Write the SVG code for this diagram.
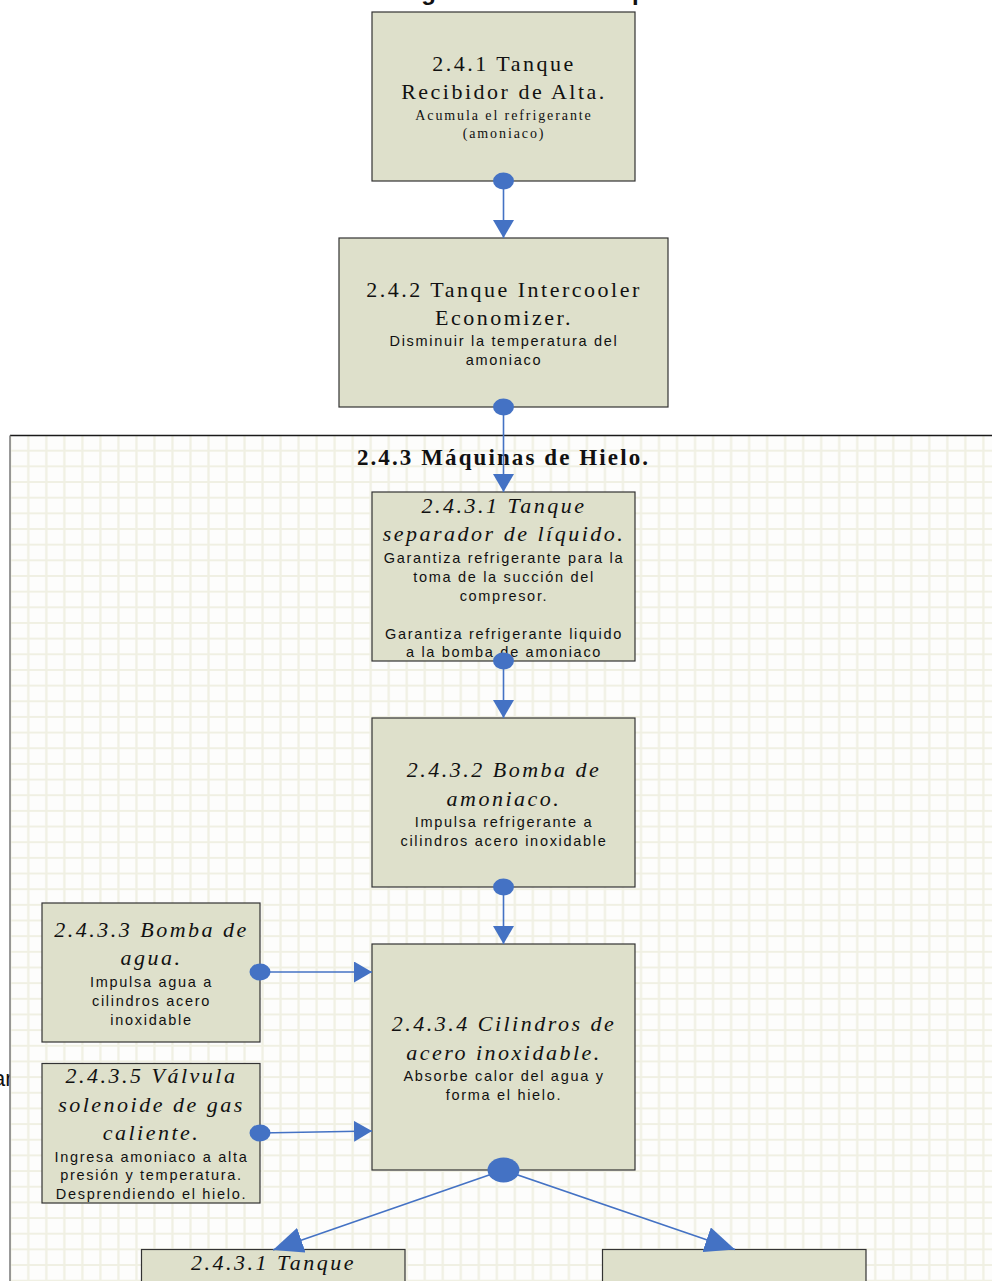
<svg xmlns="http://www.w3.org/2000/svg" width="992" height="1281" viewBox="0 0 992 1281">
<defs>
<style>
.box{fill:#dee0cb;stroke:#333;stroke-width:1.2}
.h{font-family:"Liberation Serif",serif;font-size:22px;letter-spacing:2.5px;text-anchor:middle;fill:#111}
.i{font-style:italic}
.ss{font-family:"Liberation Serif",serif;font-size:14px;letter-spacing:1.9px;text-anchor:middle;fill:#111}
.s{font-family:"Liberation Sans",sans-serif;font-size:14.5px;letter-spacing:1.7px;text-anchor:middle;fill:#111}
.ln{stroke:#4472c4;stroke-width:1.6;fill:none}
.dot{fill:#4472c4}
</style>
<pattern id="grid" patternUnits="userSpaceOnUse" x="19.29" y="442.87" width="18.02" height="15.66">
<rect width="18.02" height="15.66" fill="#fdfdfc"/>
<path d="M9.01 0V15.66M0 7.83H18.02" stroke="#f0f0e3" stroke-width="2.2"/>
</pattern>
<marker id="ah" markerUnits="userSpaceOnUse" viewBox="0 0 18 21" refX="18" refY="10.5" markerWidth="18" markerHeight="21" orient="auto">
<path d="M0 0L18 10.5L0 21Z" fill="#4472c4"/>
</marker>
<marker id="ahb" markerUnits="userSpaceOnUse" viewBox="0 0 30 26" refX="30" refY="13" markerWidth="30" markerHeight="26" orient="auto">
<path d="M0 0L30 13L0 26Z" fill="#4472c4"/>
</marker>
</defs>
<rect width="992" height="1281" fill="#ffffff"/>
<text x="384" y="0" font-family="Liberation Sans, sans-serif" font-size="24" font-weight="bold" fill="#111">Diagrama del área de producción</text>
<text x="-7" y="1086" font-family="Liberation Sans, sans-serif" font-size="22" fill="#111">ar</text>
<g id="container">
<rect x="10" y="435.5" width="1000" height="900" fill="url(#grid)"/>
<line x1="10" y1="435.5" x2="992" y2="435.5" stroke="#1a1a1a" stroke-width="1.5"/>
<line x1="10" y1="435.5" x2="10" y2="1281" stroke="#777" stroke-width="1.5"/>
<text x="503.5" y="465" font-family="Liberation Serif, serif" font-size="23" font-weight="bold" letter-spacing="2.1" text-anchor="middle" fill="#111">2.4.3 Máquinas de Hielo.</text>
</g>
<g id="n241">
<rect class="box" x="372" y="12" width="263" height="169"/>
<text class="h" x="504" y="71">2.4.1 Tanque</text>
<text class="h" x="504" y="99">Recibidor de Alta.</text>
<text class="ss" x="504" y="120">Acumula el refrigerante</text>
<text class="ss" x="504" y="138">(amoniaco)</text>
</g>
<g id="n242">
<rect class="box" x="339" y="238" width="329" height="169"/>
<text class="h" x="504" y="296.5">2.4.2 Tanque Intercooler</text>
<text class="h" x="504" y="325">Economizer.</text>
<text class="s" x="504" y="346">Disminuir la temperatura del</text>
<text class="s" x="504" y="365">amoniaco</text>
</g>
<g id="n2431">
<rect class="box" x="372" y="492" width="263" height="169"/>
<text class="h i" x="504" y="512.5">2.4.3.1 Tanque</text>
<text class="h i" x="504" y="541">separador de líquido.</text>
<text class="s" x="504" y="562.5">Garantiza refrigerante para la</text>
<text class="s" x="504" y="581.5">toma de la succión del</text>
<text class="s" x="504" y="600.5">compresor.</text>
<text class="s" x="504" y="638.5">Garantiza refrigerante liquido</text>
<text class="s" x="504" y="657">a la bomba de amoniaco</text>
</g>
<g id="n2432">
<rect class="box" x="372" y="718" width="263" height="169"/>
<text class="h i" x="504" y="777">2.4.3.2 Bomba  de</text>
<text class="h i" x="504" y="805.5">amoniaco.</text>
<text class="s" x="504" y="827">Impulsa refrigerante a</text>
<text class="s" x="504" y="846">cilindros acero inoxidable</text>
</g>
<g id="n2434">
<rect class="box" x="372" y="944" width="263" height="226"/>
<text class="h i" x="504" y="1031">2.4.3.4 Cilindros de</text>
<text class="h i" x="504" y="1060">acero inoxidable.</text>
<text class="s" x="504" y="1081">Absorbe calor del agua y</text>
<text class="s" x="504" y="1100">forma el hielo.</text>
</g>
<g id="n2433">
<rect class="box" x="42" y="903" width="218" height="139"/>
<text class="h i" x="151.5" y="937">2.4.3.3 Bomba de</text>
<text class="h i" x="151.5" y="965">agua.</text>
<text class="s" x="151.5" y="986.5">Impulsa agua a</text>
<text class="s" x="151.5" y="1005.5">cilindros acero</text>
<text class="s" x="151.5" y="1024.5">inoxidable</text>
</g>
<g id="n2435">
<rect class="box" x="42" y="1063.5" width="218" height="139.5"/>
<text class="h i" x="151.5" y="1083">2.4.3.5 Válvula</text>
<text class="h i" x="151.5" y="1112">solenoide de gas</text>
<text class="h i" x="151.5" y="1140">caliente.</text>
<text class="s" x="151.5" y="1161.5">Ingresa amoniaco a alta</text>
<text class="s" x="151.5" y="1180">presión y temperatura.</text>
<text class="s" x="151.5" y="1198.5">Desprendiendo el hielo.</text>
</g>
<g id="n2431b">
<rect class="box" x="141.5" y="1249.5" width="263.5" height="60"/>
<text class="h i" x="273.5" y="1270">2.4.3.1 Tanque</text>
</g>
<g id="nright">
<rect class="box" x="602.5" y="1249.5" width="263.5" height="60"/>
</g>
<g id="connectors">
<line class="ln" x1="503.5" y1="181" x2="503.5" y2="238" marker-end="url(#ah)"/>
<ellipse class="dot" cx="503.5" cy="181" rx="10.5" ry="8.5"/>
<line class="ln" x1="503.5" y1="407" x2="503.5" y2="492" marker-end="url(#ah)"/>
<ellipse class="dot" cx="503.5" cy="407" rx="10.5" ry="8.5"/>
<line class="ln" x1="503.5" y1="661" x2="503.5" y2="718" marker-end="url(#ah)"/>
<ellipse class="dot" cx="503.5" cy="661" rx="10.5" ry="8.5"/>
<line class="ln" x1="503.5" y1="887" x2="503.5" y2="944" marker-end="url(#ah)"/>
<ellipse class="dot" cx="503.5" cy="887" rx="10.5" ry="8.5"/>
<line class="ln" x1="260" y1="972" x2="372" y2="972" marker-end="url(#ah)"/>
<ellipse class="dot" cx="260" cy="972" rx="10.5" ry="8.5"/>
<line class="ln" x1="260" y1="1133" x2="372" y2="1131" marker-end="url(#ah)"/>
<ellipse class="dot" cx="260" cy="1133" rx="10.5" ry="8.5"/>
<line class="ln" x1="503.5" y1="1170" x2="273" y2="1250" marker-end="url(#ahb)"/>
<line class="ln" x1="503.5" y1="1170" x2="735" y2="1249.5" marker-end="url(#ahb)"/>
<ellipse class="dot" cx="503.5" cy="1170" rx="16" ry="12.5"/>
</g>
</svg>
